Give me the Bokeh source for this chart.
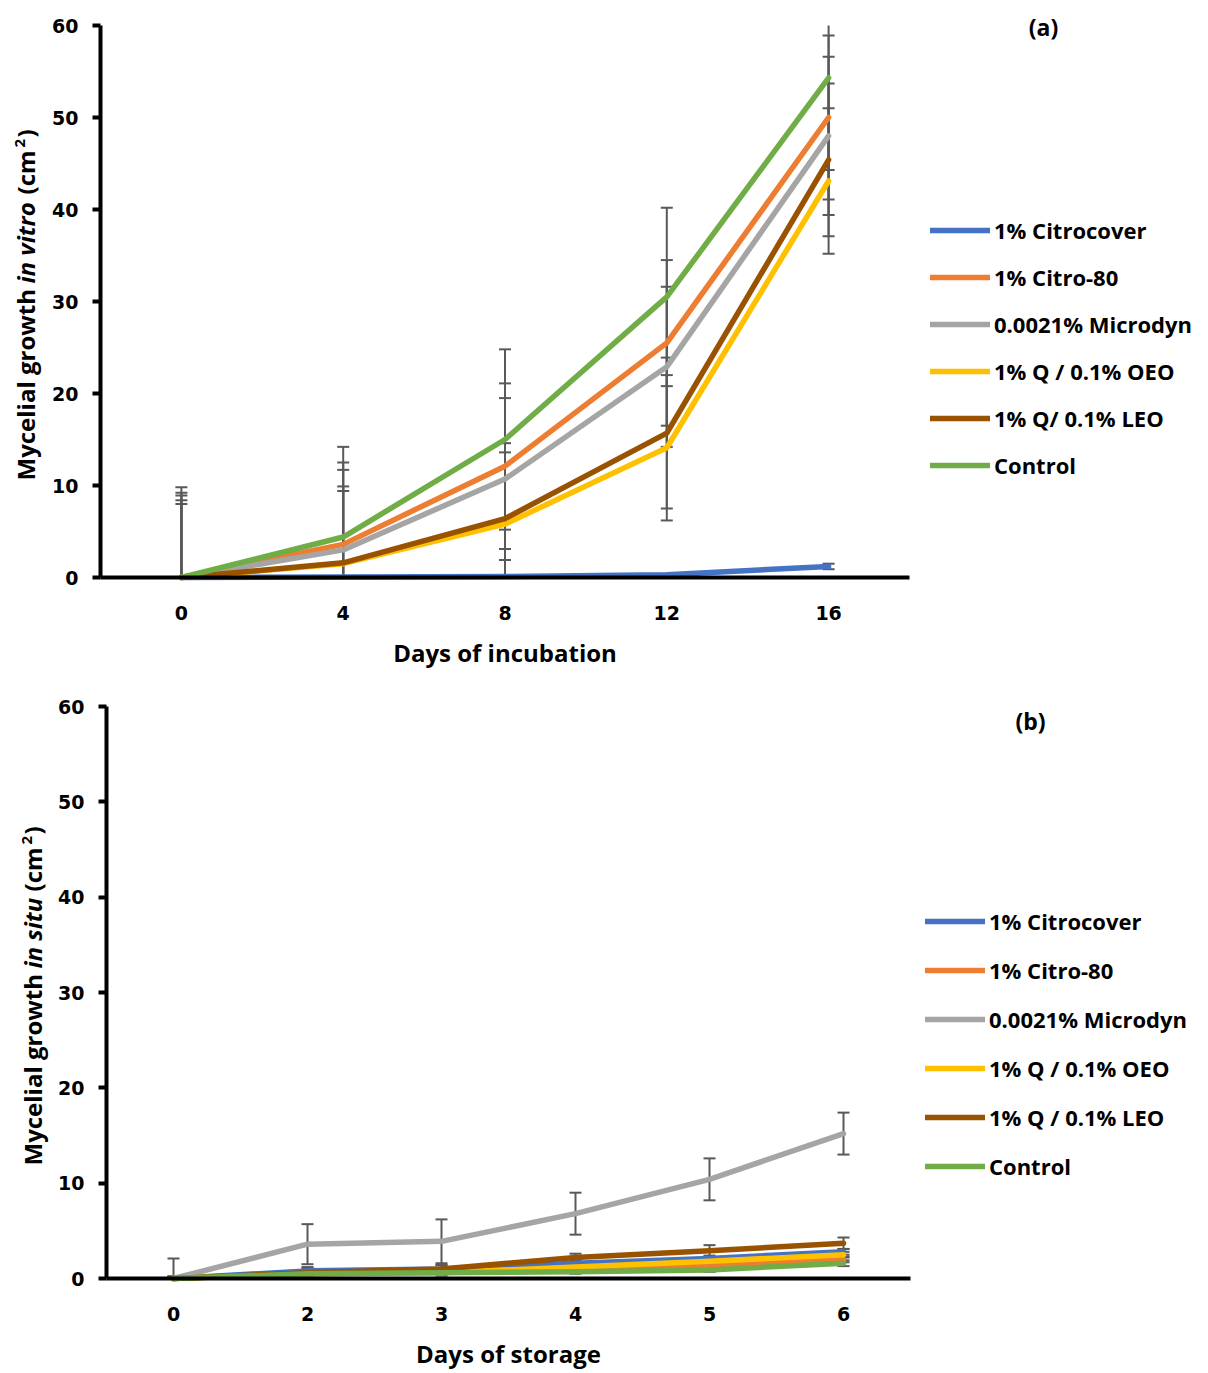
import math
from bokeh.plotting import figure
from bokeh.models import Range1d, FixedTicker, Label, Legend, LegendItem, LinearAxis
from bokeh.layouts import column
from bokeh.embed import file_html
from bokeh.resources import INLINE

# ---------------- data: panel (a) in vitro ----------------
days_a = ["0", "4", "8", "12", "16"]
citrocover_a = [0.0, 0.05, 0.1, 0.3, 1.2]
citro80_a = [0.0, 3.6, 12.1, 25.5, 50.0]
microdyn_a = [0.0, 3.0, 10.7, 22.9, 48.0]
q_oeo_a = [0.0, 1.5, 5.8, 14.1, 43.1]
q_leo_a = [0.0, 1.6, 6.4, 15.7, 45.4]
control_a = [0.0, 4.4, 15.0, 30.5, 54.3]
err_citrocover_a = [0.0, 0.0, 0.0, 0.1, 0.3]
err_citro80_a = [9.2, 8.9, 9.0, 9.0, 8.9]
err_microdyn_a = [8.9, 8.7, 8.8, 8.7, 8.6]
err_q_oeo_a = [8.0, 7.9, 7.8, 7.9, 7.9]
err_q_leo_a = [8.4, 8.3, 8.2, 8.2, 8.3]
err_control_a = [9.8, 9.8, 9.8, 9.7, 10.0]

# ---------------- data: panel (b) in situ ----------------
days_b = ["0", "2", "3", "4", "5", "6"]
citrocover_b = [0.0, 0.8, 1.0, 1.6, 2.1, 2.8]
citro80_b = [0.0, 0.5, 0.7, 1.0, 1.4, 2.0]
microdyn_b = [0.0, 3.6, 3.9, 6.8, 10.4, 15.2]
q_oeo_b = [0.0, 0.5, 0.6, 1.2, 1.8, 2.5]
q_leo_b = [0.0, 0.6, 1.0, 2.2, 2.9, 3.7]
control_b = [0.0, 0.5, 0.6, 0.7, 0.9, 1.6]
err_citrocover_b = [0.2, 0.4, 0.4, 0.3, 0.3, 0.3]
err_citro80_b = [0.2, 0.3, 0.3, 0.3, 0.3, 0.3]
err_microdyn_b = [2.1, 2.1, 2.3, 2.2, 2.2, 2.2]
err_q_oeo_b = [0.1, 0.3, 0.3, 0.3, 0.3, 0.3]
err_q_leo_b = [0.2, 0.5, 0.4, 0.4, 0.6, 0.6]
err_control_b = [0.1, 0.2, 0.2, 0.2, 0.2, 0.3]

labels_a = ["1% Citrocover", "1% Citro-80", "0.0021% Microdyn",
            "1% Q / 0.1% OEO", "1% Q/ 0.1% LEO", "Control"]
labels_b = ["1% Citrocover", "1% Citro-80", "0.0021% Microdyn",
            "1% Q / 0.1% OEO", "1% Q / 0.1% LEO", "Control"]
y_ticks = [0, 10, 20, 30, 40, 50, 60]
Y_MIN, Y_MAX = 0, 60

colors = ["#4472C4", "#ED7D31", "#A5A5A5", "#FFC000", "#995200", "#70AD47"]
ERR_COLOR = "#595959"


def make_panel(days, series, errs, labels, fig_h, left, right, top, bottom,
               xtitle, tag, tag_px, ytitle_parts, ytitle_x_px,
               legend_loc, legend_spacing):
    W = 1208
    n = len(days)
    frame_w = right - left
    ppx = frame_w / n                      # px per x unit
    ppy = (bottom - top) / (Y_MAX - Y_MIN)  # px per y unit

    x0r = -0.5 - left / ppx
    x1r = n - 0.5 + (W - right) / ppx
    y0r = Y_MIN - (fig_h - bottom) / ppy
    y1r = Y_MAX + top / ppy

    p = figure(width=W, height=fig_h, output_backend="svg", toolbar_location=None,
               x_range=Range1d(x0r, x1r), y_range=Range1d(y0r, y1r),
               x_axis_type=None, y_axis_type=None, title=None,
               min_border=0, min_border_left=0, min_border_right=0,
               min_border_top=0, min_border_bottom=0)
    p.outline_line_color = None
    p.background_fill_color = "white"
    p.border_fill_color = "white"

    xs = list(range(n))

    # error bars (kept inside the 0..60 value window like the original)
    for vals, e in zip(series, errs):
        ex, lo, hi, cx, cy = [], [], [], [], []
        for x, v, ev in zip(xs, vals, e):
            if ev <= 0:
                continue
            a, b = v - ev, v + ev
            ex.append(x)
            lo.append(max(a, Y_MIN))
            hi.append(min(b, Y_MAX))
            if b <= Y_MAX:
                cx.append(x); cy.append(b)
            if a >= Y_MIN:
                cx.append(x); cy.append(a)
        if ex:
            p.segment(x0=ex, y0=lo, x1=ex, y1=hi, line_color=ERR_COLOR, line_width=2)
        if cx:
            p.scatter(x=cx, y=cy, marker="dash", size=12,
                      line_color=ERR_COLOR, line_width=2)

    items = []
    for vals, c, lab in zip(series, colors, labels):
        r = p.line(xs, vals, line_color=c, line_width=5.5,
                   line_join="round", line_cap="round")
        items.append(LegendItem(label=lab, renderers=[r]))

    legend = Legend(items=items, location=legend_loc, orientation="vertical",
                    glyph_width=60, glyph_height=30, label_height=30,
                    label_standoff=4, spacing=legend_spacing, padding=0, margin=0,
                    border_line_color=None, background_fill_alpha=0,
                    label_text_font="Open Sans", label_text_font_style="bold",
                    label_text_font_size="22px", label_text_color="black")
    p.add_layout(legend)

    # axes, pinned at the data origin
    yax = LinearAxis(fixed_location=-0.5, bounds=(Y_MIN, Y_MAX))
    yax.ticker = FixedTicker(ticks=y_ticks)
    yax.axis_line_width = 4
    yax.axis_line_color = "black"
    yax.major_tick_line_width = 4
    yax.major_tick_line_color = "black"
    yax.major_tick_out = 8
    yax.major_tick_in = 0
    yax.minor_tick_line_color = None
    yax.major_label_text_font = "DejaVu Sans"
    yax.major_label_text_font_style = "bold"
    yax.major_label_text_font_size = "19px"
    yax.major_label_text_color = "black"
    yax.major_label_standoff = 14
    p.add_layout(yax, "left")

    xax = LinearAxis(fixed_location=Y_MIN, bounds=(-0.5, n - 0.5))
    xax.ticker = FixedTicker(ticks=xs)
    xax.major_label_overrides = {i: d for i, d in enumerate(days)}
    xax.axis_line_width = 4
    xax.axis_line_color = "black"
    xax.major_tick_line_color = None
    xax.major_tick_out = 0
    xax.major_tick_in = 0
    xax.minor_tick_line_color = None
    xax.major_label_text_font = "DejaVu Sans"
    xax.major_label_text_font_style = "bold"
    xax.major_label_text_font_size = "19px"
    xax.major_label_text_color = "black"
    xax.major_label_standoff = 28
    xax.axis_label = xtitle
    xax.axis_label_text_font = "Open Sans"
    xax.axis_label_text_font_style = "bold"
    xax.axis_label_text_font_size = "24px"
    xax.axis_label_text_color = "black"
    xax.axis_label_standoff = 13
    p.add_layout(xax, "below")

    def dx(px):
        return -0.5 + (px - left) / ppx

    def dy(py):
        return Y_MIN + (bottom - py) / ppy

    # panel tag
    p.add_layout(Label(x=dx(tag_px[0]), y=dy(tag_px[1]), text=tag,
                       text_align="center", text_baseline="middle",
                       text_font="Open Sans", text_font_style="bold",
                       text_font_size="23px", text_color="black"))

    # rotated y title with italic part and superscript (pieces start at given px)
    for txt, style, size, shift, start_py in ytitle_parts:
        p.add_layout(Label(x=dx(ytitle_x_px + shift), y=dy(start_py),
                           text=txt, angle=math.pi / 2,
                           text_align="left", text_baseline="middle",
                           text_font="Open Sans", text_font_style=style,
                           text_font_size=size, text_color="black"))
    return p


series_a = [citrocover_a, citro80_a, microdyn_a, q_oeo_a, q_leo_a, control_a]
errs_a = [err_citrocover_a, err_citro80_a, err_microdyn_a, err_q_oeo_a,
          err_q_leo_a, err_control_a]
series_b = [citrocover_b, citro80_b, microdyn_b, q_oeo_b, q_leo_b, control_b]
errs_b = [err_citrocover_b, err_citro80_b, err_microdyn_b, err_q_oeo_b,
          err_q_leo_b, err_control_b]

yt_a = [("Mycelial growth", "bold", "24px", 0, 480),
        ("in vitro", "bold italic", "24px", 0, 283),
        ("(cm", "bold", "24px", 0, 194),
        ("2", "bold", "15px", -6, 147),
        (")", "bold", "24px", 0, 137)]
yt_b = [("Mycelial growth", "bold", "24px", 0, 1165 - 686),
        ("in situ", "bold italic", "24px", 0, 968 - 686),
        ("(cm", "bold", "24px", 0, 891 - 686),
        ("2", "bold", "15px", -6, 844 - 686),
        (")", "bold", "24px", 0, 834 - 686)]

p1 = make_panel(days_a, series_a, errs_a, labels_a, 686, 100, 909, 25, 577,
                "Days of incubation", "(a)", (1043, 26), yt_a, 25,
                (930, 206), 17)
p2 = make_panel(days_b, series_b, errs_b, labels_b, 687, 106, 910, 20, 592,
                "Days of storage", "(b)", (1030, 34), yt_b, 32,
                (925, 192), 19)

layout = column(p1, p2, spacing=0)
open("out.html", "w").write(file_html(layout, INLINE))
